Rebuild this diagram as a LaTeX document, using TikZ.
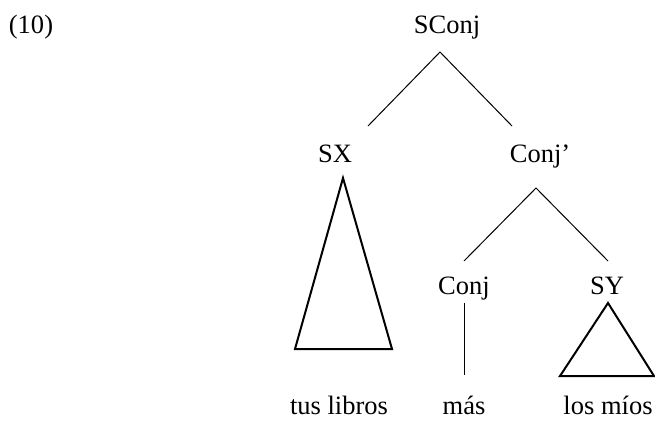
\documentclass[tikz,border=0pt]{standalone}
\usepackage{fontspec}
\setmainfont{Liberation Serif}
\begin{document}
\begin{tikzpicture}[x=1pt,y=-1pt,
  lbl/.style={anchor=base,inner sep=0pt,font=\fontsize{26.5}{30}\selectfont},
  branch/.style={line width=1pt},
  roof/.style={line width=2pt,line join=miter}]
\useasboundingbox (0,0) rectangle (655,421);

% example number
\node[lbl] (num) at (31,33) {(10)};

% category labels
\node[lbl] (sconj) at (447,33)  {SConj};
\node[lbl] (sx)    at (335,162) {SX};
\node[lbl] (cbar)  at (540,162) {Conj’};
\node[lbl] (conj)  at (464,294) {Conj};
\node[lbl] (sy)    at (607,294) {SY};

% terminal strings
\node[lbl] (w1) at (339,414) {tus libros};
\node[lbl] (w2) at (464,414) {más};
\node[lbl] (w3) at (608,414) {los míos};

% branch end points
\coordinate (sconjB) at (440,52);
\coordinate (sxT)    at (368,126);
\coordinate (cbarT)  at (512,126);
\coordinate (cbarB)  at (536,188);
\coordinate (conjT)  at (464,261);
\coordinate (syT)    at (608,261);
\coordinate (conjB)  at (464,303);
\coordinate (w2T)    at (464,375);

% triangle corners
\coordinate (sxA) at (343,178);
\coordinate (sxL) at (295,349);
\coordinate (sxR) at (392,349);
\coordinate (syA) at (608,303);
\coordinate (syL) at (560,376);
\coordinate (syR) at (654,376);

\draw[branch] (sxT) -- (sconjB) -- (cbarT);
\draw[branch] (conjT) -- (cbarB) -- (syT);
\draw[branch] (conjB) -- (w2T);

\draw[roof] (sxA) -- (sxL) -- (sxR) -- cycle;
\draw[roof] (syA) -- (syL) -- (syR) -- cycle;
\end{tikzpicture}
\end{document}
